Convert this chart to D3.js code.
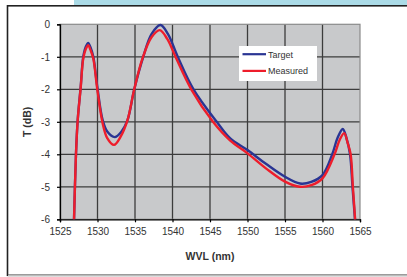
<!DOCTYPE html>
<html lang="en">
<head>
<meta charset="UTF-8">
<title>T vs WVL</title>
<script src="https://d3js.org/d3.v7.min.js"></script>
<style>
  body { margin: 0; background: #fff; font-family: "Liberation Sans", Arial, sans-serif; }
  svg { display: block; }
</style>
</head>
<body>
<div id="chart"></div>
<script>
// wavelength (nm) and transmission (dB)
const targetWvl = [1526.87, 1527.13, 1527.36, 1527.76, 1528.1, 1528.45, 1528.77, 1529.05, 1529.44, 1529.97,
  1530.69, 1531.3, 1532.3, 1533.2, 1534.0, 1534.9, 1536.1, 1537.2, 1538.4, 1539.4, 1540.7, 1542.8,
  1545.9, 1547.7, 1550.0, 1552.5, 1555.0, 1557.0, 1558.5, 1560.0, 1561.3, 1562.0, 1562.7,
  1563.2, 1563.67, 1564.0, 1564.33];
const targetT = [-6.0, -4.0, -2.95, -1.92, -1.0, -0.68, -0.57, -0.7, -1.0, -1.92,
  -2.95, -3.3, -3.47, -3.3, -2.95, -2.0, -1.0, -0.3, -0.02, -0.3, -1.0, -2.0,
  -3.0, -3.51, -3.87, -4.3, -4.69, -4.9, -4.85, -4.64, -4.0, -3.5, -3.22,
  -3.5, -4.0, -5.0, -6.0];

const measuredWvl = [1526.87, 1527.13, 1527.36, 1527.76, 1528.1, 1528.45, 1528.77, 1529.05, 1529.44, 1529.97,
  1530.69, 1531.3, 1532.2, 1533.1, 1534.0, 1534.9, 1536.0, 1537.2, 1538.3, 1539.3, 1540.4, 1542.5,
  1545.4, 1547.7, 1550.0, 1552.5, 1555.0, 1557.0, 1558.5, 1560.0, 1561.6, 1562.3, 1562.9,
  1563.35, 1563.75, 1564.05, 1564.35];
const measuredT = [-6.0, -4.0, -2.95, -1.95, -1.05, -0.75, -0.64, -0.78, -1.05, -2.0,
  -3.05, -3.5, -3.71, -3.45, -2.95, -2.0, -1.05, -0.4, -0.18, -0.45, -1.0, -2.0,
  -3.0, -3.58, -3.97, -4.44, -4.84, -5.0, -4.95, -4.74, -4.0, -3.55, -3.35,
  -3.65, -4.0, -5.0, -6.0];

const xTicks = [1525, 1530, 1535, 1540, 1545, 1550, 1555, 1560, 1565];
const yTicks = [0, -1, -2, -3, -4, -5, -6];
const seriesNames = ["Target", "Measured"];
const seriesColors = ["#2a3593", "#ee1d2b"];

const width = 407, height = 277;
const plot = { left: 60, top: 24.3, width: 300, height: 195 };

const svg = d3.select("#chart").append("svg")
  .attr("width", width)
  .attr("height", height);

// page decoration: top band and the frame
svg.append("rect").attr("x", 74).attr("y", 0).attr("width", width - 74).attr("height", 5)
  .attr("fill", "#abdbe7");
svg.append("rect").attr("x", 7.5).attr("y", 5.8).attr("width", width + 10).attr("height", 269.5)
  .attr("fill", "#fff").attr("stroke", "#222").attr("stroke-width", 1.6);
svg.append("line").attr("x1", 8).attr("x2", width).attr("y1", 275.5).attr("y2", 275.5)
  .attr("stroke", "#bbb").attr("stroke-width", 1.5);

const x = d3.scaleLinear().domain([1525, 1565]).range([plot.left, plot.left + plot.width]);
const y = d3.scaleLinear().domain([-6, 0]).range([plot.top + plot.height, plot.top]);

// plot background
svg.append("rect")
  .attr("x", x(1525)).attr("y", y(0))
  .attr("width", x(1565) - x(1525)).attr("height", y(-6) - y(0))
  .attr("fill", "#c8c9cb");

// grid
svg.append("g").selectAll("line").data(xTicks.slice(1, -1)).enter().append("line")
  .attr("x1", d => x(d)).attr("x2", d => x(d))
  .attr("y1", y(0)).attr("y2", y(-6))
  .attr("stroke", "#3c3c3c").attr("stroke-width", 1.3);
svg.append("g").selectAll("line").data(yTicks.slice(1, -1)).enter().append("line")
  .attr("x1", x(1525)).attr("x2", x(1565))
  .attr("y1", d => y(d)).attr("y2", d => y(d))
  .attr("stroke", "#3c3c3c").attr("stroke-width", 1.3);

// plot border (top / right gray)
svg.append("rect")
  .attr("x", x(1525)).attr("y", y(0))
  .attr("width", x(1565) - x(1525)).attr("height", y(-6) - y(0))
  .attr("fill", "none").attr("stroke", "#8a8a8a").attr("stroke-width", 1.2);

// axes
const xAxis = svg.append("g")
  .attr("transform", `translate(0,${y(-6)})`)
  .call(d3.axisBottom(x).tickValues(xTicks).tickSize(3).tickPadding(6).tickFormat(d3.format("d")));
const yAxis = svg.append("g")
  .attr("transform", `translate(${x(1525)},0)`)
  .call(d3.axisLeft(y).tickValues(yTicks).tickSize(3).tickPadding(7).tickFormat(d3.format("d")));

[xAxis, yAxis].forEach(g => {
  g.select(".domain").attr("stroke", "#000").attr("stroke-width", 1.3);
  g.selectAll(".tick line").attr("stroke", "#000").attr("stroke-width", 1.2);
  g.selectAll(".tick text")
    .attr("fill", "#333")
    .style("font-family", "'Liberation Sans', Arial, sans-serif")
    .style("font-size", "10px");
});
yAxis.selectAll(".tick text").text(d => d === 0 ? "0" : "-" + Math.abs(d));

// axis titles
svg.append("text")
  .attr("x", x(1545)).attr("y", 259.5)
  .attr("text-anchor", "middle")
  .style("font-size", "10.5px").style("font-weight", "bold").attr("fill", "#333")
  .text("WVL (nm)");
svg.append("text")
  .attr("transform", `translate(31,${(y(0) + y(-6)) / 2}) rotate(-90)`)
  .attr("text-anchor", "middle")
  .style("font-size", "10.5px").style("font-weight", "bold").attr("fill", "#333")
  .text("T (dB)");

// curves
const line = d3.line()
  .x(d => x(d[0]))
  .y(d => y(d[1]))
  .curve(d3.curveCatmullRom.alpha(0.5));

const target = targetWvl.map((w, i) => [w, targetT[i]]);
const measured = measuredWvl.map((w, i) => [w, measuredT[i]]);

svg.append("path").datum(target)
  .attr("d", line).attr("fill", "none")
  .attr("stroke", seriesColors[0]).attr("stroke-width", 2.4);
svg.append("path").datum(measured)
  .attr("d", line).attr("fill", "none")
  .attr("stroke", seriesColors[1]).attr("stroke-width", 2.4);

// legend
const legend = svg.append("g").attr("transform", "translate(239,46)");
legend.append("rect").attr("width", 78).attr("height", 35).attr("fill", "#fff");
seriesNames.forEach((name, i) => {
  const ly = 8.2 + i * 16.7;
  legend.append("line")
    .attr("x1", 3.5).attr("x2", 27).attr("y1", ly).attr("y2", ly)
    .attr("stroke", seriesColors[i]).attr("stroke-width", 2.2);
  legend.append("text")
    .attr("x", 29).attr("y", ly + 3.3)
    .style("font-size", "9px").attr("fill", "#333")
    .text(name);
});
</script>
</body>
</html>
